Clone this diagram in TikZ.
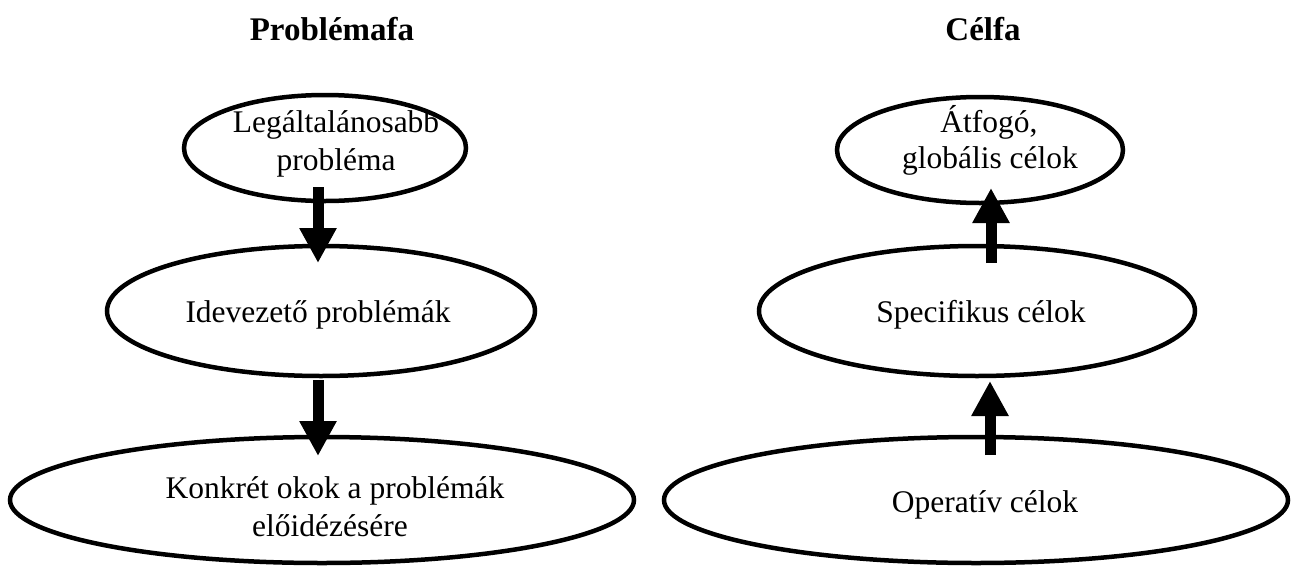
\documentclass[tikz,border=0pt]{standalone}
\usepackage{fontspec}
\setmainfont{Liberation Serif}
\usetikzlibrary{arrows.meta,shapes.geometric}
\begin{document}
\begin{tikzpicture}[x=1pt,y=-1pt,
  oval/.style={draw=black, line width=4.5pt, ellipse, inner sep=0pt, outer sep=0pt},
  txt/.style={anchor=base, inner sep=0pt, font=\fontsize{31.5}{38}\selectfont},
  heading/.style={anchor=base, inner sep=0pt, font=\fontsize{33}{40}\selectfont\bfseries},
  fat/.style={line width=11pt, -{Triangle[width=35pt,length=35pt]}}
]
\useasboundingbox (0,0) rectangle (1291,568);

% headings
\node[heading] (tL) at (332,40) {Problémafa};
\node[heading] (tR) at (983,40) {Célfa};

% problem tree
\node[oval, minimum width=282pt, minimum height=106pt] (L1) at (325,148) {};
\node[oval, minimum width=428pt, minimum height=130pt] (L2) at (321,311) {};
\node[oval, minimum width=624pt, minimum height=126pt] (L3) at (322,500) {};
\node[txt] (L1a) at ([shift={(11,-16)}]L1.center) {Legáltalánosabb};
\node[txt] (L1b) at ([shift={(11,22)}]L1.center) {probléma};
\node[txt] (L2a) at ([shift={(-3,11)}]L2.center) {Idevezető problémák};
\node[txt] (L3a) at ([shift={(13,-2)}]L3.center) {Konkrét okok a problémák};
\node[txt] (L3b) at ([shift={(8,36)}]L3.center) {előidézésére};

% objective tree
\node[oval, minimum width=286pt, minimum height=106pt] (R1) at (980,150) {};
\node[oval, minimum width=436pt, minimum height=130pt] (R2) at (977,311) {};
\node[oval, minimum width=624pt, minimum height=126pt] (R3) at (976,500) {};
\node[txt] (R1a) at ([shift={(9,-18)}]R1.center) {Átfogó,};
\node[txt] (R1b) at ([shift={(10,18)}]R1.center) {globális célok};
\node[txt] (R2a) at ([shift={(4,11)}]R2.center) {Specifikus célok};
\node[txt] (R3a) at ([shift={(9,12)}]R3.center) {Operatív célok};

% thick arrows
\draw[fat] ([shift={(-7,-14)}]L1.south) -- ([shift={(-3,17)}]L2.north);
\draw[fat] ([shift={(-3,4)}]L2.south) -- ([shift={(-4,19)}]L3.north);
\draw[fat] ([shift={(14,17)}]R2.north) -- ([shift={(11,-15)}]R1.south);
\draw[fat] ([shift={(14,18)}]R3.north) -- ([shift={(13,5)}]R2.south);
\end{tikzpicture}
\end{document}
